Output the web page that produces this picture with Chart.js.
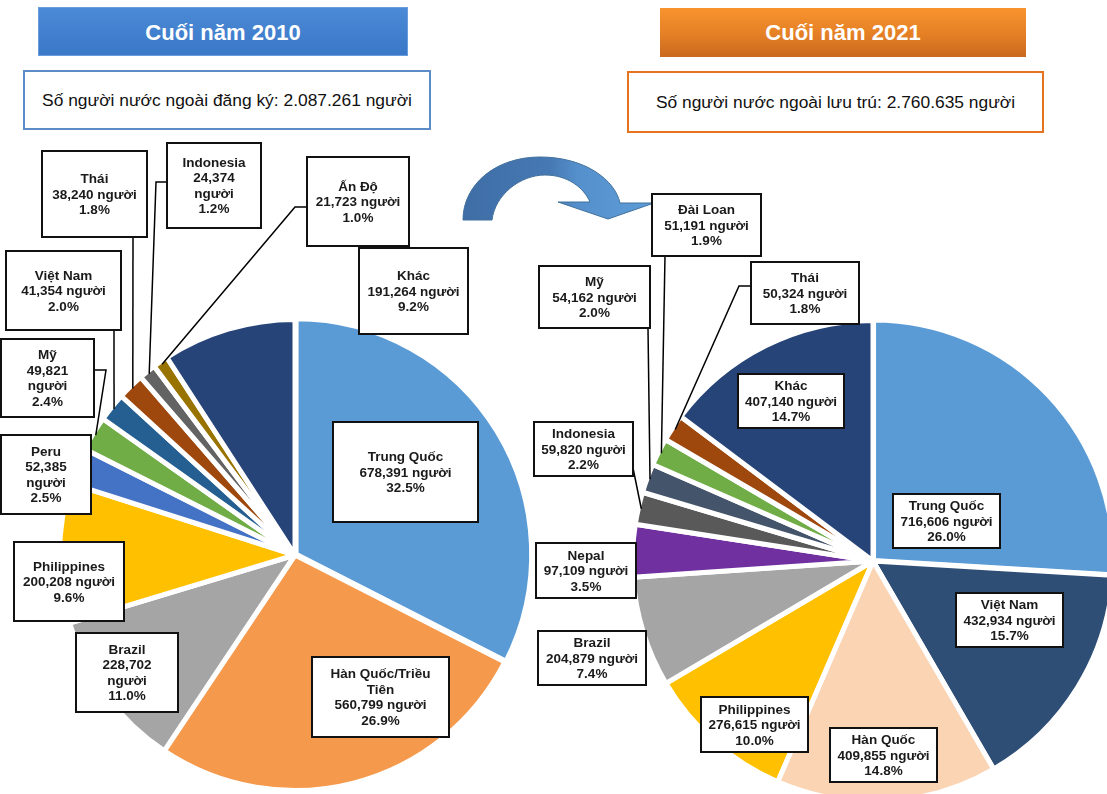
<!DOCTYPE html>
<html lang="vi">
<head>
<meta charset="utf-8">
<title>Người nước ngoài 2010 - 2021</title>
<script src="https://cdn.jsdelivr.net/npm/chart.js@4.4.1/dist/chart.umd.min.js"></script>
<style>
  html, body { margin: 0; padding: 0; background: #fff; }
  body { width: 1107px; height: 794px; position: relative; overflow: hidden;
         font-family: "Liberation Sans", Arial, sans-serif; }
  .head { position: absolute; height: 49px; line-height: 49px; text-align: center;
          color: #fff; font-weight: bold; font-size: 22px; box-sizing: border-box; }
  .head.blue { left: 38px; top: 7px; width: 370px;
               background: linear-gradient(#4b8ad6, #3a78c8); border: 1px solid #6a9ddc; }
  .head.orange { left: 660px; top: 8px; width: 366px;
                 background: linear-gradient(#f8942e, #e47f25 55%, #c9691f); }
  .info { position: absolute; box-sizing: border-box; background: #fff; color: #111;
          font-size: 17.4px; text-align: center; }
  .info.blue { left: 23px; top: 70px; width: 408px; height: 60px; line-height: 56px;
               border: 2px solid #5b8cc8; }
  .info.orange { left: 627px; top: 71px; width: 417px; height: 62px; line-height: 58px;
                 border: 2px solid #e6741e; }
  canvas, svg { position: absolute; left: 0; top: 0; }
</style>
</head>
<body>
<div class="head blue">Cuối năm 2010</div>
<div class="head orange">Cuối năm 2021</div>
<div class="info blue">Số người nước ngoài đăng ký: 2.087.261 người</div>
<div class="info orange">Số người nước ngoài lưu trú: 2.760.635 người</div>

<svg width="1107" height="794" viewBox="0 0 1107 794">
  <defs>
    <linearGradient id="arrowFill" x1="0" y1="0" x2="1" y2="0">
      <stop offset="0" stop-color="#3f6ea6"/>
      <stop offset="0.45" stop-color="#4678b3"/>
      <stop offset="0.6" stop-color="#5590cc"/>
      <stop offset="1" stop-color="#5d9cd8"/>
    </linearGradient>
  </defs>
  <path d="M463,220 C463,185 495,157 540,157 C585,157 615,180 620,203 L654,203 L608,219 L558,202 L590,202
           C584,188 568,175 545,175 C520,175 495,195 492,220 Z"
        fill="url(#arrowFill)" stroke="#41719c" stroke-width="1"/>
</svg>

<canvas id="chart2010" width="1107" height="794"></canvas>
<canvas id="chart2021" width="1107" height="794"></canvas>

<script>
// 2010: registered foreigners by country
const countries2010 = ["Trung Quốc", "Hàn Quốc/Triều Tiên", "Brazil", "Philippines", "Peru",
                       "Mỹ", "Việt Nam", "Thái", "Indonesia", "Ấn Độ", "Khác"];
const values2010 = [678391, 560799, 228702, 200208, 52385, 49821, 41354, 38240, 24374, 21723, 191264];
const colors2010 = ["#5b9bd5", "#f5994c", "#a5a5a5", "#ffc000", "#4472c4", "#70ad47",
                    "#255e91", "#9e480e", "#636363", "#997300", "#264478"];

// 2021: resident foreigners by country
const countries2021 = ["Trung Quốc", "Việt Nam", "Hàn Quốc", "Philippines", "Brazil", "Nepal",
                       "Indonesia", "Mỹ", "Đài Loan", "Thái", "Khác"];
const values2021 = [716606, 432934, 409855, 276615, 204879, 97109, 59820, 54162, 51191, 50324, 407140];
const colors2021 = ["#5b9bd5", "#2e4e76", "#fbd4b4", "#ffc000", "#a5a5a5", "#7030a0",
                    "#595959", "#44546a", "#70ad47", "#9e480e", "#264478"];

// callout boxes (same order as the slices): box rect, optional leader start/elbow,
// name override with line breaks, split = number and "người" on separate lines
const boxes2010 = [
    { x: 333, y: 422, w: 145, h: 100 },
    { x: 312, y: 657, w: 137, h: 80, name: ["Hàn Quốc/Triều", "Tiên"] },
    { x: 76, y: 633, w: 102, h: 79, split: true },
    { x: 14, y: 542, w: 110, h: 79 },
    { x: 1, y: 435, w: 90, h: 79, split: true },
    { x: 1, y: 339, w: 93, h: 78, split: true, from: [94, 370], elbow: [106, 370] },
    { x: 6, y: 251, w: 115, h: 79, from: [114, 330] },
    { x: 42, y: 151, w: 105, h: 86, from: [133, 237] },
    { x: 167, y: 143, w: 94, h: 85, split: true, from: [167, 182], elbow: [156, 182] },
    { x: 307, y: 157, w: 102, h: 89, from: [307, 207], elbow: [295, 207] },
    { x: 359, y: 248, w: 109, h: 86 },
];
const boxes2021 = [
    { x: 893, y: 494, w: 107, h: 54 },
    { x: 956, y: 593, w: 107, h: 54 },
    { x: 830, y: 728, w: 107, h: 54 },
    { x: 701, y: 697, w: 107, h: 55 },
    { x: 538, y: 631, w: 108, h: 54 },
    { x: 536, y: 543, w: 100, h: 55 },
    { x: 534, y: 422, w: 99, h: 54, from: [633, 468] },
    { x: 539, y: 266, w: 111, h: 62, from: [648, 328] },
    { x: 652, y: 194, w: 109, h: 62, from: [665, 256] },
    { x: 751, y: 262, w: 108, h: 62, from: [751, 286], elbow: [739, 286] },
    { x: 738, y: 374, w: 106, h: 54 },
];

const LABEL_FONT = "bold 13.5px 'Liberation Sans', Arial, sans-serif";
const LINE_HEIGHT = 15.5;

function formatCount(value) {
    return String(value).replace(/\B(?=(\d{3})+(?!\d))/g, ",");
}

const calloutPlugin = {
    id: "callouts",
    afterDatasetsDraw(chart, args, opts) {
        const ctx = chart.ctx;
        const meta = chart.getDatasetMeta(0);
        const data = chart.data.datasets[0].data;
        const total = data.reduce((a, b) => a + b, 0);
        ctx.save();
        // leader lines first, boxes go over them
        ctx.strokeStyle = "#000";
        ctx.lineWidth = 1.5;
        opts.boxes.forEach((box, i) => {
            if (!box.from) {
                return;
            }
            const arc = meta.data[i];
            const p = arc.getProps(["x", "y", "startAngle", "endAngle", "outerRadius"], true);
            const mid = (p.startAngle + p.endAngle) / 2;
            const r = p.outerRadius - 3;
            ctx.beginPath();
            ctx.moveTo(box.from[0], box.from[1]);
            if (box.elbow) {
                ctx.lineTo(box.elbow[0], box.elbow[1]);
            }
            ctx.lineTo(p.x + Math.cos(mid) * r, p.y + Math.sin(mid) * r);
            ctx.stroke();
        });
        ctx.font = LABEL_FONT;
        ctx.textAlign = "center";
        ctx.textBaseline = "middle";
        opts.boxes.forEach((box, i) => {
            const value = data[i];
            const nameLines = box.name || [chart.data.labels[i]];
            const countLines = box.split
                ? [formatCount(value), "người"]
                : [formatCount(value) + " người"];
            const lines = [...nameLines, ...countLines, (value / total * 100).toFixed(1) + "%"];
            ctx.fillStyle = "#fff";
            ctx.fillRect(box.x, box.y, box.w, box.h);
            ctx.lineWidth = 2;
            ctx.strokeStyle = "#111";
            ctx.strokeRect(box.x, box.y, box.w, box.h);
            ctx.fillStyle = "#1a1a1a";
            const cx = box.x + box.w / 2;
            const top = box.y + box.h / 2 - (lines.length - 1) * LINE_HEIGHT / 2;
            lines.forEach((line, k) => ctx.fillText(line, cx, top + k * LINE_HEIGHT + 1));
        });
        ctx.restore();
    },
};

function createPieChart(canvasId, labels, values, colors, boxes, radius, padding, explode) {
    const offsets = values.map((v, i) => (i === 0 ? explode : 0));
    return new Chart(document.getElementById(canvasId), {
        type: "pie",
        data: {
            labels,
            datasets: [
                {
                    data: values,
                    backgroundColor: colors,
                    borderColor: "#ffffff",
                    borderWidth: 5,
                    offset: offsets,
                    radius,
                    clip: false,
                },
            ],
        },
        options: {
            responsive: false,
            animation: false,
            events: [],
            layout: { padding },
            plugins: {
                legend: { display: false },
                tooltip: { enabled: false },
                callouts: { boxes },
            },
        },
        plugins: [calloutPlugin],
    });
}

createPieChart("chart2010", countries2010, values2010, colors2010, boxes2010, 235.5,
    { left: 0, right: 517, top: 316, bottom: 0 }, 5);
createPieChart("chart2021", countries2021, values2021, colors2021, boxes2021, 240.5,
    { left: 639, right: 0, top: 328, bottom: 0 }, 3);
</script>
</body>
</html>
